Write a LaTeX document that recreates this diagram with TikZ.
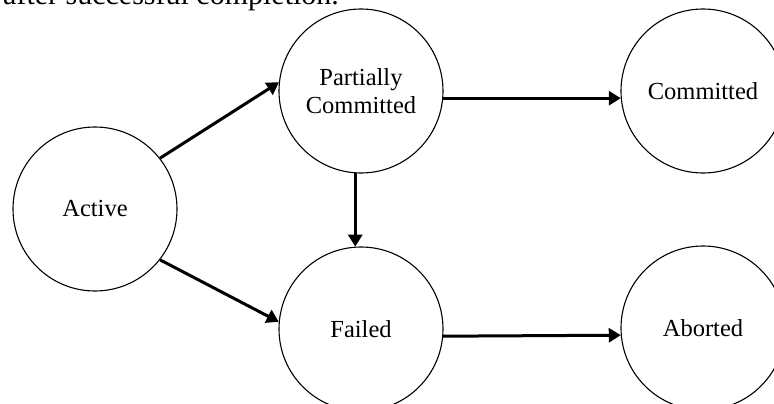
\documentclass[tikz,border=0pt]{standalone}
\usepackage{fontspec}
\setmainfont{Liberation Serif}
\usetikzlibrary{arrows.meta}
\tikzset{
  state/.style={circle, draw, line width=1.1pt, minimum size=164pt, inner sep=0pt,
    font=\fontsize{24.5}{28}\selectfont, align=center},
  trans/.style={line width=3pt, -{Triangle[length=12pt,width=14pt]}}
}
\begin{document}
\begin{tikzpicture}[x=1pt,y=-1pt]
\useasboundingbox (0,0) rectangle (774,404);
\clip (0,0) rectangle (774,404);
\node[anchor=base west, inner sep=0pt, font=\fontsize{30}{36}\selectfont] (top) at (3,5) {after successful completion.};
\node[state] (A) at (95,209) {Active};
\node[state] (P) at (361,91) {Partially\\Committed};
\node[state] (C) at (703,91) {Committed};
\node[state] (F) at (361,329) {Failed};
\node[state] (B) at (703,328) {Aborted};
\draw[trans] (A.38) -- (P.174);
\draw[trans] (A.-38) -- (F.175);
\draw[trans] (P.266) -- (F.94);
\draw[trans] (P.-5) -- (C.185);
\draw[trans] (F.-5) -- (B.185);
\end{tikzpicture}
\end{document}
